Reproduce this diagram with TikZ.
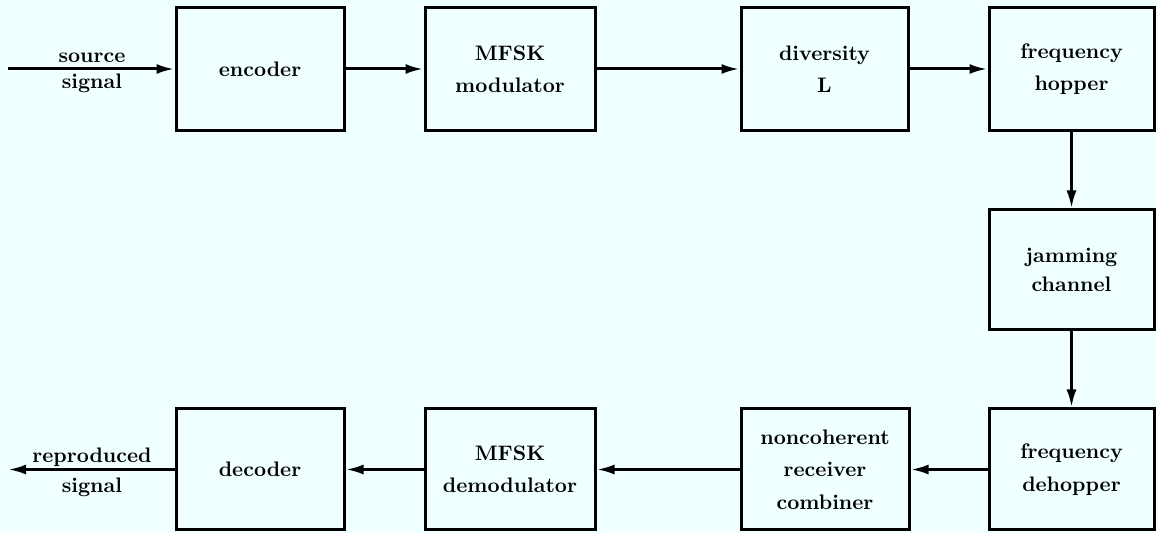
\documentclass[tikz,border=0pt]{standalone}
\usetikzlibrary{arrows.meta}
\definecolor{bg}{HTML}{F0FFFF}
\begin{document}
\begin{tikzpicture}[x=0.5pt,y=-0.5pt,
  blk/.style={draw,line width=1.5pt,align=center,inner sep=0pt,
    font=\bfseries\fontsize{10.5}{16.2}\selectfont},
  top/.style={blk,minimum height=61.5pt},
  bot/.style={blk,minimum height=60.5pt},
  conn/.style={line width=1.5pt,-{Latex[length=9pt,width=5pt]}},
  lbl/.style={align=center,inner sep=0pt}]
\fill[bg] (0,0) rectangle (1156,533);
\useasboundingbox (0,0) rectangle (1156,533);
% top row
\node[top,minimum width=84pt]   (enc) at (260,69)    {encoder};
\node[top,minimum width=85pt]   (mod) at (510,69)    {MFSK\\modulator};
\node[top,minimum width=83.5pt] (div) at (824.5,69)  {diversity\\L};
\node[top,minimum width=82.5pt] (hop) at (1071.5,69) {frequency\\hopper};
% channel
\node[blk,minimum width=82.5pt,minimum height=60pt,font=\bfseries\fontsize{10.5}{14.5}\selectfont] (jam) at (1071.5,270) {jamming\\channel};
% bottom row
\node[bot,minimum width=82.5pt] (dehop) at (1071.5,469.5) {frequency\\dehopper};
\node[bot,minimum width=84pt]   (nonc)  at (825,469.5)    {noncoherent\\receiver\\combiner};
\node[bot,minimum width=85pt]   (demod) at (510,469.5)    {MFSK\\demodulator};
\node[bot,minimum width=84pt]   (dec)   at (260,469.5)    {decoder};
% labels
\coordinate (src) at (8,69);
\coordinate (out) at (8,469.5);
\node[lbl,font=\bfseries\fontsize{10.5}{13}\selectfont] (srclbl) at (92,73) {source\\signal};
\node[lbl,font=\bfseries\fontsize{10.5}{15}\selectfont] (outlbl) at (92,472) {reproduced\\signal};
% connectors
\draw[conn] (src) -- (enc);
\draw[conn] (enc) -- (mod);
\draw[conn] (mod) -- (div);
\draw[conn] (div) -- (hop);
\draw[conn] (hop) -- (jam);
\draw[conn] (jam) -- (dehop);
\draw[conn] (dehop) -- (nonc);
\draw[conn] (nonc) -- (demod);
\draw[conn] (demod) -- (dec);
\draw[conn] (dec) -- (out);
\end{tikzpicture}
\end{document}
